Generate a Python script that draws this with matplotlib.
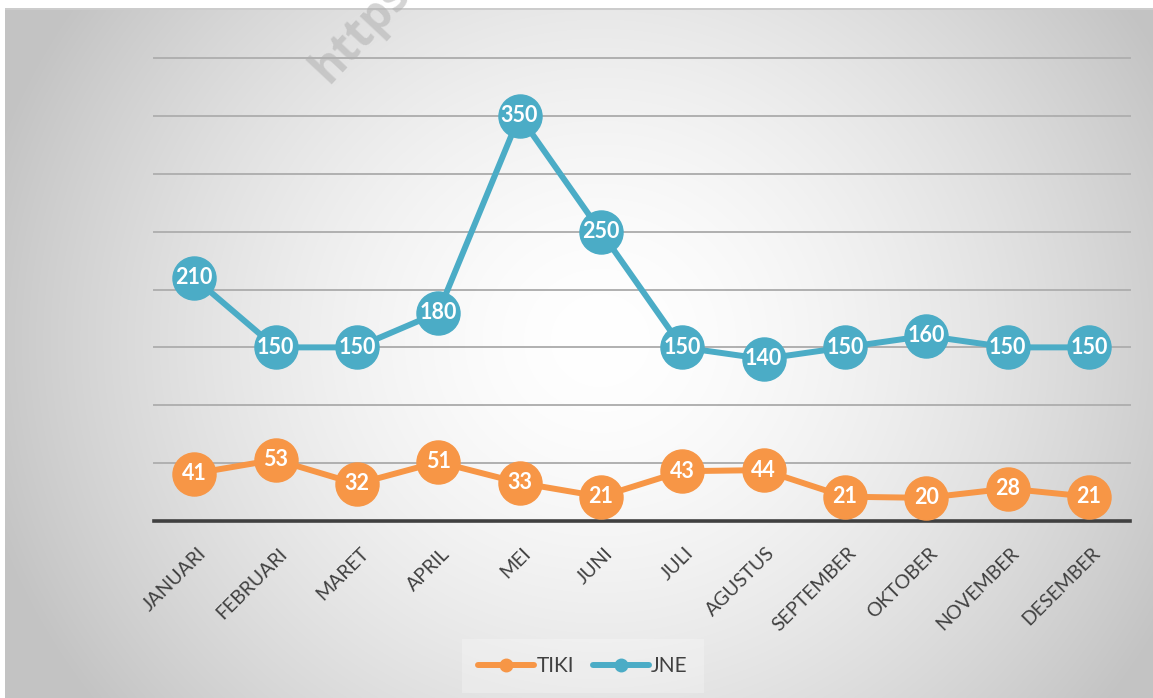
import numpy as np
import matplotlib
matplotlib.use("Agg")
import matplotlib.pyplot as plt
from matplotlib.transforms import ScaledTranslation

months = ["JANUARI", "FEBRUARI", "MARET", "APRIL", "MEI", "JUNI", "JULI",
          "AGUSTUS", "SEPTEMBER", "OKTOBER", "NOVEMBER", "DESEMBER"]
tiki = [41, 53, 32, 51, 33, 21, 43, 44, 21, 20, 28, 21]
jne = [210, 150, 150, 180, 350, 250, 150, 140, 150, 160, 150, 150]
series_names = ["TIKI", "JNE"]
grid_values = [50, 100, 150, 200, 250, 300, 350, 400]

ORANGE = "#F79646"
BLUE = "#4BACC6"
W, H = 1153, 698
DPI = 100

fig = plt.figure(figsize=(W / DPI, H / DPI), dpi=DPI)

# background with radial gradient
bg = fig.add_axes([0, 0, 1, 1], zorder=-10)
yy, xx = np.mgrid[0:H, 0:W]
cx, cy, rx, ry = 600.0, 340.0, 640.0, 600.0
d2 = ((xx - cx) / rx) ** 2 + ((yy - cy) / ry) ** 2
g = 1.0 - 0.235 * np.clip(d2, 0, 1) ** 0.8
img = np.dstack([g, g, g])
img[:8, :, :] = 1.0
img[:, :5, :] = 1.0
img[8:10, 5:, :] = 0.8
bg.imshow(img, extent=[0, W, H, 0], aspect="auto", interpolation="bilinear")
bg.set_xlim(0, W)
bg.set_ylim(H, 0)
bg.axis("off")

# watermark
fig.text(328 / W, 1 - 84 / H, "https", rotation=47, fontsize=33,
         fontweight="bold", color="#b0b0b0", alpha=0.55, family="Open Sans",
         ha="left", va="baseline", rotation_mode="anchor", zorder=-5)

# main axes
left, right = 153.5, 1129.5
bottom_px, top_px = 521, 58
ax = fig.add_axes([left / W, 1 - bottom_px / H, (right - left) / W, (bottom_px - top_px) / H])
ax.set_facecolor("none")
x = np.arange(len(months))
ax.set_xlim(-0.5, len(months) - 0.5)
ax.set_ylim(0, 400)

for gv in grid_values:
    ax.axhline(gv, color="#b0b0b0", lw=1.4, zorder=1, clip_on=False)

for s in ["top", "right", "left"]:
    ax.spines[s].set_visible(False)
ax.spines["bottom"].set_color("#404040")
ax.spines["bottom"].set_linewidth(2.6)
ax.spines["bottom"].set_zorder(2)
ax.set_yticks([])

ax.plot(x, tiki, color=ORANGE, lw=4.3, marker="o", ms=31, mec=ORANGE, mfc=ORANGE,
        zorder=3, clip_on=False, solid_capstyle="round")
ax.plot(x, jne, color=BLUE, lw=4.3, marker="o", ms=31, mec=BLUE, mfc=BLUE,
        zorder=3, clip_on=False, solid_capstyle="round")

for xi, v in zip(x, tiki):
    ax.text(xi, v, str(v), ha="center", va="center", color="white",
            fontsize=15.5, fontweight="bold", family="Lato", zorder=5)
for xi, v in zip(x, jne):
    ax.text(xi, v, str(v), ha="center", va="center", color="white",
            fontsize=15.5, fontweight="bold", family="Lato", zorder=5)

ax.set_xticks(x)
ax.set_xticklabels(months, rotation=45, ha="right", va="top", rotation_mode="anchor",
                   fontsize=14, color="#404040", family="Lato")
ax.tick_params(axis="x", length=0, pad=17)
for lab in ax.get_xticklabels():
    lab.set_transform(lab.get_transform() + ScaledTranslation(2 / 72, 0, fig.dpi_scale_trans))

h1, = ax.plot([], [], color=ORANGE, lw=4.3, marker="o", ms=9, solid_capstyle="round")
h2, = ax.plot([], [], color=BLUE, lw=4.3, marker="o", ms=9, solid_capstyle="round")
leg = fig.legend([h1, h2], series_names, loc="center", bbox_to_anchor=(583 / W, 1 - 666 / H),
                 ncol=2, frameon=True, handlelength=2.7, handletextpad=0.1,
                 columnspacing=0.9, borderpad=0.5, prop={"family": "Lato", "size": 15})
leg.get_frame().set_facecolor("white")
leg.get_frame().set_alpha(0.25)
leg.get_frame().set_edgecolor("none")
leg.get_frame().set_boxstyle("square")
for t in leg.get_texts():
    t.set_color("#404040")

fig.savefig("out.png", dpi=DPI)
